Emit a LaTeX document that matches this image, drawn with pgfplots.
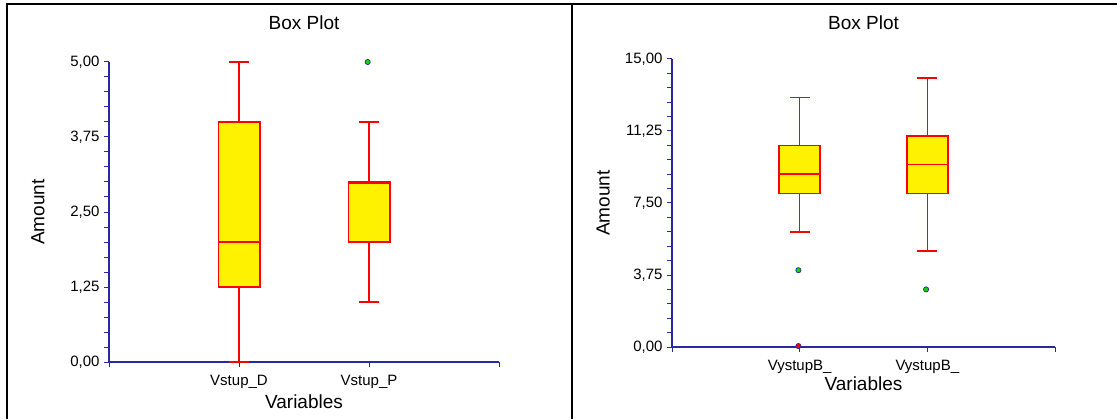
\documentclass[border=0pt]{standalone}
\usepackage{fontspec}
\setmainfont{Liberation Sans}
\usepackage{pgfplots}
\pgfplotsset{compat=1.18}
\definecolor{axisblue}{RGB}{40,40,160}
\definecolor{outgreen}{RGB}{0,220,0}
\definecolor{bred}{RGB}{255,0,0}
\pgfplotsset{
  boxstyle/.style={
    scale only axis,
    clip=false,
    axis x line=bottom, axis y line=left,
    axis line style={-, draw=axisblue, line width=1.1bp},
    tick style={draw=axisblue, line width=1bp},
    tick align=outside,
    major tick length=5bp, minor tick length=5bp,
    minor x tick num=0, minor y tick num=4,
    xmin=0, xmax=3, xtick={0,1,2,3},
    /pgf/number format/.cd, fixed, fixed zerofill, precision=2, use comma, 1000 sep={}, assume math mode=true,
    /pgfplots/.cd,
    tick label style={font=\fontsize{15bp}{18bp}\selectfont, text=black},
    xticklabel style={anchor=base, yshift=-18bp},
    yticklabel style={anchor=east, xshift=-1bp},
    label style={font=\fontsize{19bp}{22bp}\selectfont},
    title style={font=\fontsize{19bp}{22bp}\selectfont, at={(axis description cs:0.5,1)}, anchor=center},
    xlabel style={at={(axis description cs:0.5,0)}, anchor=center},
    ylabel style={anchor=center},
  },
  wh/.style={draw=bred, line width=1.4bp, mark=none},
  bx/.style={draw=bred, fill=yellow, line width=1.4bp, mark=none},
  whr/.style={draw=bred, line width=1.6bp, mark=none},
  bxr/.style={draw=bred, fill=yellow, line width=1.6bp, mark=none},
  outl/.style={only marks, mark=*, mark size=2.6bp, mark options={fill=#1, draw=axisblue, line width=0.7bp}},
}
\begin{document}
\begin{tikzpicture}[x=1bp,y=1bp]
\useasboundingbox (0,0) rectangle (1117,419);
\fill[white] (0,0) rectangle (1117,419);
% frame
\draw[line width=2bp, black] (7,0) -- (7,415) -- (1117,415);
\draw[line width=2bp, black] (572,0) -- (572,415);

% left panel
\begin{axis}[boxstyle,
  at={(109bp,57bp)}, anchor=origin,
  width=390bp, height=300bp,
  ymin=0, ymax=5, ytick={0,1.25,2.5,3.75,5},
  xticklabels={,Vstup\_D,Vstup\_P,},
  title={Box Plot}, title style={yshift=33bp},
  xlabel={Variables}, xlabel style={yshift=-40bp},
  ylabel={Amount}, ylabel style={at={(axis description cs:-0.182,0.5)}},
]
% Vstup_D: whiskers 0..5, box 1.25..4, median 2
\addplot[wh] coordinates {(1,0) (1,5)};
\addplot[wh] coordinates {(0.9225,0) (1.0775,0)};
\addplot[wh] coordinates {(0.9225,5) (1.0775,5)};
\addplot[bx] coordinates {(0.84,1.25) (1.16,1.25) (1.16,4) (0.84,4)} -- cycle;
\addplot[wh] coordinates {(0.84,2) (1.16,2)};
% Vstup_P: whiskers 1..4, box 2..3, median 2.97
\addplot[wh] coordinates {(2,1) (2,4)};
\addplot[wh] coordinates {(1.9225,1) (2.0775,1)};
\addplot[wh] coordinates {(1.9225,4) (2.0775,4)};
\addplot[bx] coordinates {(1.84,2) (2.16,2) (2.16,3) (1.84,3)} -- cycle;
\addplot[wh] coordinates {(1.84,2.97) (2.16,2.97)};
\addplot[outl=outgreen] coordinates {(1.99,5)};
\end{axis}

% right panel
\begin{axis}[boxstyle,
  at={(672bp,72bp)}, anchor=origin,
  width=383bp, height=288bp,
  ymin=0, ymax=15, ytick={0,3.75,7.5,11.25,15},
  xticklabels={,VystupB\_,VystupB\_,},
  title={Box Plot}, title style={yshift=30bp},
  xlabel={Variables}, xlabel style={yshift=-37bp},
  ylabel={Amount}, ylabel style={at={(axis description cs:-0.180,0.5)}},
]
% VystupB_ (1): whiskers 6..13, box 8..10.5, median 9
\addplot[whr] coordinates {(1,6) (1,13)};
\addplot[whr] coordinates {(0.922,6) (1.078,6)};
\addplot[whr] coordinates {(0.922,13) (1.078,13)};
\addplot[bxr] coordinates {(0.84,8) (1.16,8) (1.16,10.5) (0.84,10.5)} -- cycle;
\addplot[whr] coordinates {(0.84,9) (1.16,9)};
% VystupB_ (2): whiskers 5..14, box 8..11, median 9.5
\addplot[whr] coordinates {(2,5) (2,14)};
\addplot[whr] coordinates {(1.922,5) (2.078,5)};
\addplot[whr] coordinates {(1.922,14) (2.078,14)};
\addplot[bxr] coordinates {(1.84,8) (2.16,8) (2.16,11) (1.84,11)} -- cycle;
\addplot[whr] coordinates {(1.84,9.5) (2.16,9.5)};
\addplot[outl=outgreen] coordinates {(0.99,4) (1.99,3)};
\addplot[outl=red] coordinates {(0.99,0.05)};
\end{axis}
\end{tikzpicture}
\end{document}
